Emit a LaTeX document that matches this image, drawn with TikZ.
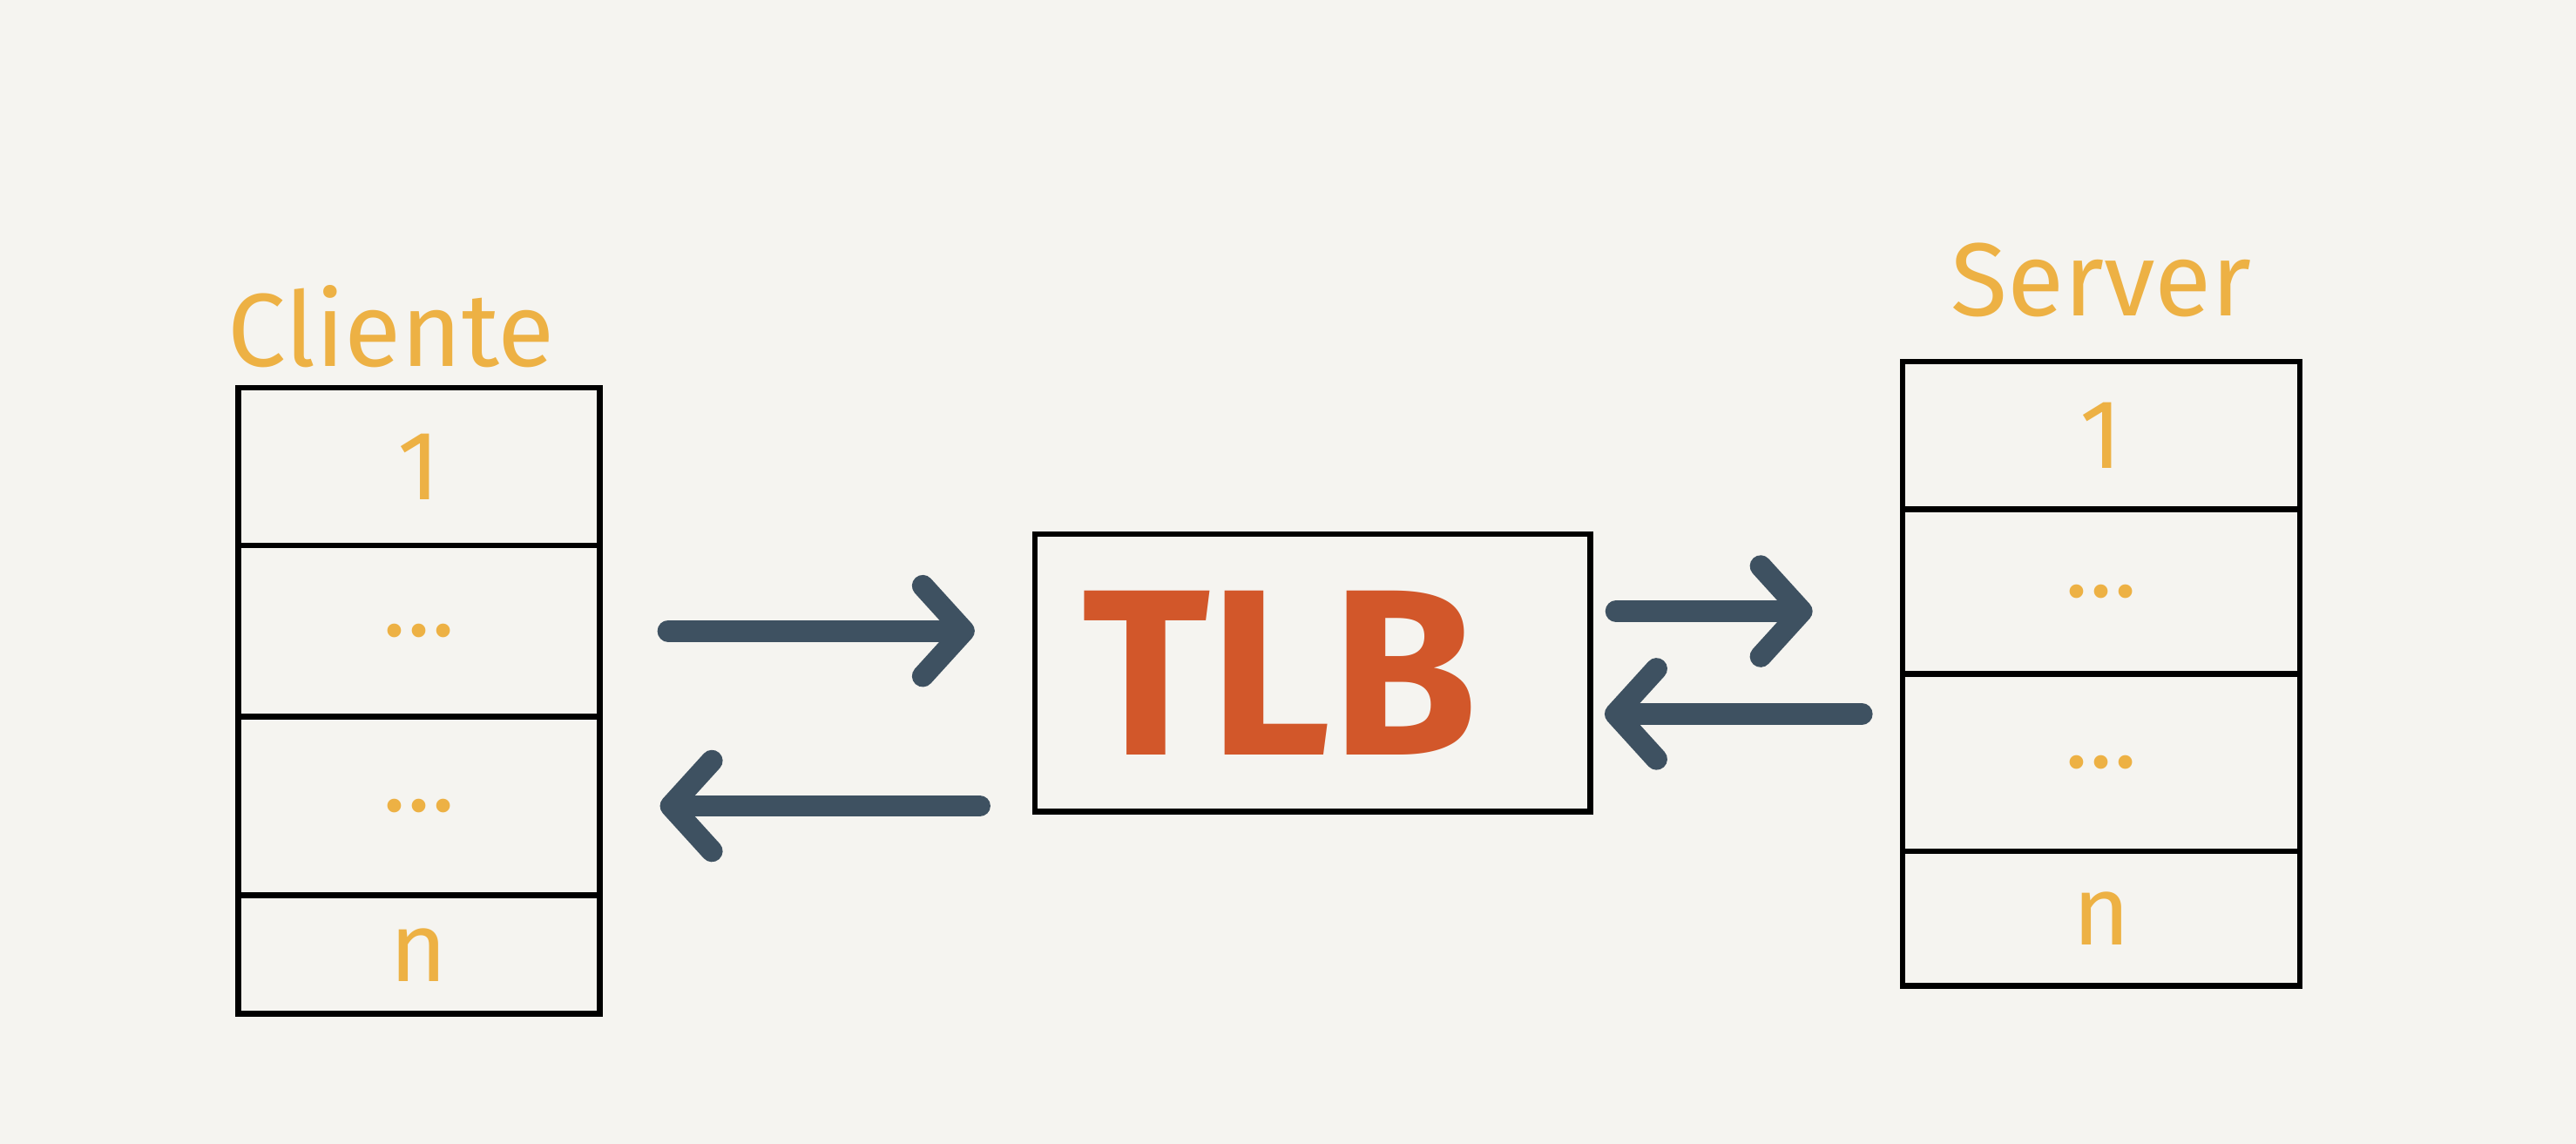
\documentclass[tikz,border=0pt]{standalone}
\usepackage{fontspec}
\setmainfont{Fira Sans}
\usetikzlibrary{calc,positioning,arrows.meta}

\definecolor{paper}{HTML}{F5F4F0}
\definecolor{gold}{HTML}{EDB144}
\definecolor{rust}{HTML}{D2572A}
\definecolor{slate}{HTML}{3E5161}

\tikzset{
  cell/.style={draw, line width=2pt, inner sep=0pt, text=gold,
    font=\fontsize{34}{34}\selectfont},
  lbl/.style={inner sep=0pt, text=gold, font=\fontsize{36}{36}\selectfont},
  tlbbox/.style={draw, line width=2pt, text=rust,
    font=\fontsize{82}{82}\selectfont\bfseries},
  flow/.style={draw=slate, line width=7.5pt, line cap=round,
    -{Straight Barb[length=0.5cm,width=1.1cm,round]}}
}

\begin{document}
\begin{tikzpicture}[x=0.02cm,y=-0.02cm]
  %% paper
  \fill[paper] (0,0) rectangle (1568,696);

  %% Client table
  \foreach \i/\yc/\h/\t in {1/284/96/1, 2/384/104/{\dots}, 3/490.5/109/{\dots}, 4/581/72/n}
  {
    \node[cell, minimum width=4.4cm, minimum height=\h*0.02cm] (CL\i) at (255,\yc) {\t};
  }
  \node[lbl, above right=0.2cm and -0.1cm of CL1.north west] (clientname) {Cliente};

  %% Server table
  \foreach \i/\yc/\h/\t in {1/265/90/1, 2/360/100/{\dots}, 3/464/108/{\dots}, 4/559/82/n}
  {
    \node[cell, minimum width=4.84cm, minimum height=\h*0.02cm] (SV\i) at (1279,\yc) {\t};
  }
  \node[lbl, above=0.5cm of SV1] (servername) {Server};

  %% TLB in the middle
  \node[tlbbox, minimum width=6.76cm, minimum height=3.38cm] (tlb) at (799,409.5)
    {TLB\hspace*{0.8cm}};

  %% Client <-> TLB
  \draw[flow, shorten <=0.8cm, shorten >=0.7cm] (CL2.east) -- (CL2.east -| tlb.west);
  \draw[flow, shorten <=0.64cm, shorten >=0.7cm] (tlb.west |- CL3.east) -- (CL3.east);

  %% TLB <-> Server
  \coordinate (up) at ($(tlb.east)+(0,0.75cm)$);
  \coordinate (down) at ($(tlb.east)+(0,-0.5cm)$);
  \draw[flow, shorten <=0.28cm, shorten >=1.06cm] (up) -- (up -| SV1.west);
  \draw[flow, shorten <=0.46cm, shorten >=0.14cm] (down -| SV1.west) -- (down);
\end{tikzpicture}
\end{document}
